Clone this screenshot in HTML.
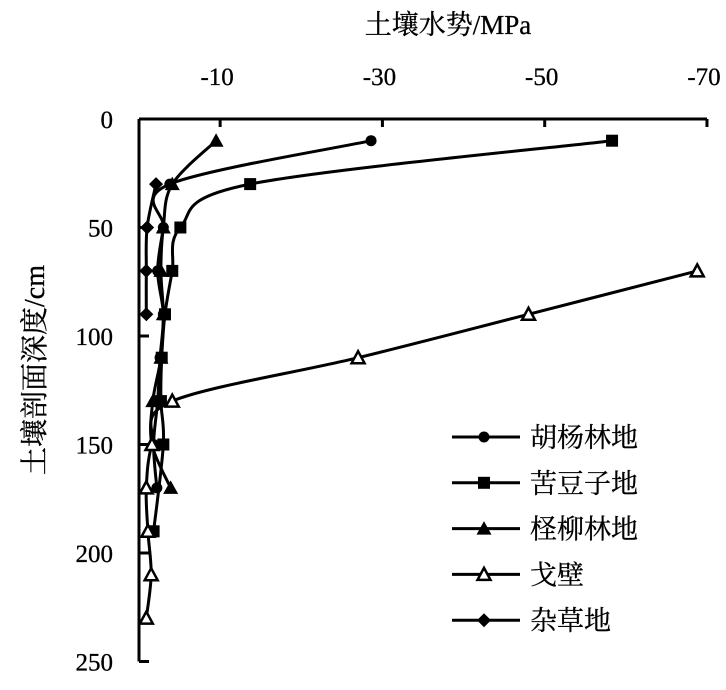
<!DOCTYPE html>
<html><head><meta charset="utf-8"><style>
body{margin:0;background:#fff}
svg text{font-family:"Liberation Serif","Noto Serif CJK SC","Noto Sans CJK SC",serif;fill:#000;stroke:#000;stroke-width:0.3}
</style></head><body>
<svg id="chart" width="726" height="685" viewBox="0 0 726 685" xmlns="http://www.w3.org/2000/svg"></svg>
<script>
const xTicks=[-10,-30,-50,-70];
const yTicks=[0,50,100,150,200,250];
const legendNames=["胡杨林地","苦豆子地","柽柳林地","戈壁","杂草地"];
const markerTypes=["circle","square","triangle","triangle-open","diamond"];
const depthsHuyang=[10,30,50,70,90,110,130,150,170];
const valuesHuyang=[28.6,3.8,3.0,2.3,3.0,2.6,2.3,1.8,2.2];
const depthsKudouzi=[10,30,50,70,90,110,130,150,190];
const valuesKudouzi=[58.3,13.7,5.1,4.1,3.2,2.8,2.7,3.0,1.8];
const depthsChengliu=[10,30,50,70,90,110,130,150,170];
const valuesChengliu=[9.5,4.1,3.0,2.7,3.0,2.7,1.7,1.6,3.9];
const depthsGobi=[70,90,110,130,150,170,190,210,230];
const valuesGobi=[68.8,48,27,4.1,1.6,0.9,1.1,1.5,0.9];
const depthsZacao=[30,50,70,90];
const valuesZacao=[2.1,1.0,0.9,0.9];

const NS="http://www.w3.org/2000/svg";
const svg=document.getElementById('chart');
const X0=139,XS=8.114,Y0=119,YS=2.17;
const xPos=v=>X0+XS*Math.abs(v);
const yPos=d=>Y0+YS*d;
function mk(tag,attrs,parent){const e=document.createElementNS(NS,tag);for(const k in attrs)e.setAttribute(k,attrs[k]);(parent||svg).appendChild(e);return e;}

let a=mk('line',{x1:X0,y1:Y0,x2:xPos(70),y2:Y0,stroke:'#000','stroke-width':3});


a=mk('line',{x1:X0,y1:Y0,x2:X0,y2:yPos(250),stroke:'#000','stroke-width':3});


xTicks.forEach(t=>{
  const l=mk('line',{x1:xPos(t),y1:Y0,x2:xPos(t),y2:Y0+8,stroke:'#000','stroke-width':3});
  
  
  const tx=mk('text',{x:xPos(t)-3,y:85,'font-size':25,'text-anchor':'middle'});
  tx.textContent=t;
  
  
});
yTicks.forEach(t=>{
  const l=mk('line',{x1:X0,y1:yPos(t),x2:X0+10,y2:yPos(t),stroke:'#000','stroke-width':3});
  
  
  const tx=mk('text',{x:113,y:yPos(t)+9,'font-size':25,'text-anchor':'end'});
  tx.textContent=t;
  
  
});
let t=mk('text',{x:448,y:34,'font-size':27,'text-anchor':'middle'});
t.textContent='土壤水势/MPa';


t=mk('text',{x:0,y:0,'font-size':28,'text-anchor':'middle',transform:'translate(44,370) rotate(-90)'});
t.textContent='土壤剖面深度/cm';



function marker(type,x,y,g){
  let m;
  if(type==='circle')m=mk('circle',{cx:x,cy:y,r:5.5,fill:'#000'},g);
  else if(type==='square')m=mk('rect',{x:x-6,y:y-6,width:12,height:12,fill:'#000'},g);
  else if(type==='triangle')m=mk('polygon',{points:`${x},${y-7.5} ${x-7.5},${y+6} ${x+7.5},${y+6}`,fill:'#000'},g);
  else if(type==='triangle-open')m=mk('polygon',{points:`${x},${y-6.5} ${x-6.5},${y+5.5} ${x+6.5},${y+5.5}`,fill:'#fff',stroke:'#000','stroke-width':2.5},g);
  else m=mk('polygon',{points:`${x},${y-7} ${x-7},${y} ${x},${y+7} ${x+7},${y}`,fill:'#000'},g);
  return m;
}
function smooth(p){
  let d=`M${p[0][0]},${p[0][1]}`;
  for(let i=0;i<p.length-1;i++){
    const p0=p[i-1]||p[i],p1=p[i],p2=p[i+1],p3=p[i+2]||p2;
    const c1=[p1[0]+(p2[0]-p0[0])/6,p1[1]+(p2[1]-p0[1])/6];
    const c2=[p2[0]-(p3[0]-p1[0])/6,p2[1]-(p3[1]-p1[1])/6];
    d+=` C${c1[0]},${c1[1]} ${c2[0]},${c2[1]} ${p2[0]},${p2[1]}`;
  }
  return d;
}
const series=[[depthsHuyang,valuesHuyang],[depthsKudouzi,valuesKudouzi],[depthsChengliu,valuesChengliu],[depthsGobi,valuesGobi],[depthsZacao,valuesZacao]];
const seriesNames=['series-huyang','series-kudouzi','series-chengliu','series-gobi','series-zacao'];
series.forEach((s,i)=>{
  const g=mk('g',{});
  
  
  const pts=s[0].map((d,j)=>[xPos(s[1][j]),yPos(d)]);
  const p=mk('path',{d:smooth(pts),fill:'none',stroke:'#000','stroke-width':3},g);
  
  
  pts.forEach(pt=>{
    const m=marker(markerTypes[i],pt[0],pt[1],g);
    
    
  });
});
legendNames.forEach((n,i)=>{
  const y=437+i*45.8;
  const g=mk('g',{});
  
  
  mk('line',{x1:452,y1:y,x2:520,y2:y,stroke:'#000','stroke-width':3},g);
  marker(markerTypes[i],484,y,g);
  const tx=mk('text',{x:530,y:y+10,'font-size':27},g);
  tx.textContent=n;
});
</script>
</body></html>
